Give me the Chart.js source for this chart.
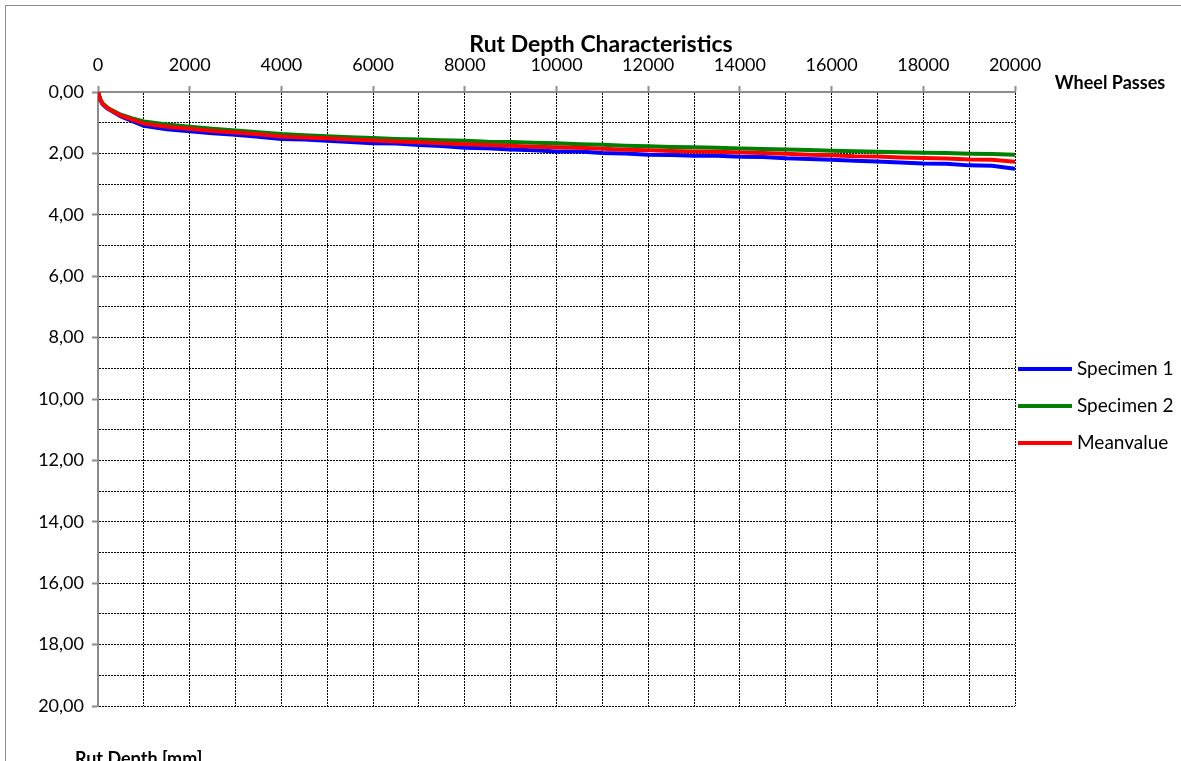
<!DOCTYPE html>
<html>
<head>
<meta charset="utf-8">
<script src="https://cdn.jsdelivr.net/npm/chart.js@4.4.1/dist/chart.umd.min.js"></script>
<style>
    html, body { margin: 0; padding: 0; background: #fff; }
    #wrap { width: 1181px; height: 761px; position: relative; }
</style>
</head>
<body>
<div id="wrap"><canvas id="rutChart" width="1181" height="761"></canvas></div>
<script>
// Wheel passes (x values)
const passes = [0, 50, 100, 200, 300, 500, 750, 1000, 1500, 2000, 2500, 3000, 3500, 4000, 4500, 5000,
    5500, 6000, 6500, 7000, 7500, 8000, 8500, 9000, 9500, 10000, 10500, 11000, 11500, 12000, 12500,
    13000, 13500, 14000, 14500, 15000, 15500, 16000, 16500, 17000, 17500, 18000, 18500, 19000, 19500, 20000];

// Rut depth in mm
const specimen1 = [0, 0.26, 0.40, 0.53, 0.62, 0.80, 0.95, 1.10, 1.21, 1.28, 1.34, 1.39, 1.46, 1.53, 1.55, 1.59,
    1.63, 1.67, 1.68, 1.73, 1.76, 1.82, 1.83, 1.87, 1.90, 1.94, 1.94, 1.99, 2.00, 2.04, 2.05,
    2.08, 2.08, 2.11, 2.12, 2.16, 2.18, 2.21, 2.24, 2.26, 2.30, 2.33, 2.34, 2.39, 2.40, 2.50];
const specimen2 = [0, 0.24, 0.37, 0.50, 0.59, 0.74, 0.86, 0.96, 1.06, 1.13, 1.20, 1.25, 1.31, 1.37, 1.41, 1.44,
    1.47, 1.50, 1.53, 1.55, 1.57, 1.59, 1.62, 1.63, 1.65, 1.67, 1.70, 1.72, 1.75, 1.77, 1.79,
    1.80, 1.82, 1.84, 1.86, 1.87, 1.89, 1.91, 1.93, 1.95, 1.96, 1.98, 1.99, 2.01, 2.02, 2.04];
const meanvalue = [0, 0.25, 0.39, 0.52, 0.61, 0.77, 0.90, 1.03, 1.13, 1.20, 1.27, 1.32, 1.38, 1.45, 1.48, 1.51,
    1.55, 1.58, 1.61, 1.64, 1.67, 1.70, 1.73, 1.75, 1.78, 1.80, 1.82, 1.85, 1.88, 1.90, 1.92,
    1.94, 1.95, 1.97, 1.99, 2.01, 2.04, 2.06, 2.09, 2.10, 2.13, 2.15, 2.17, 2.20, 2.21, 2.27];

const seriesNames = ['Specimen 1', 'Specimen 2', 'Meanvalue'];
const seriesColors = ['#0000ff', '#008000', '#ff0000'];

const FONT = 'Lato';
const AXIS_GREY = '#8c8c8c';

function toPoints(values) {
    return passes.map((p, i) => ({ x: p, y: values[i] }));
}

// Frame, titles and the legend on the right
const decorations = {
    id: 'decorations',
    afterDraw(chart) {
        const ctx = chart.ctx;
        ctx.save();
        ctx.strokeStyle = AXIS_GREY;
        ctx.lineWidth = 1;
        ctx.strokeRect(5.5, 5.5, 2000, 2000);

        ctx.fillStyle = '#000';
        ctx.font = 'bold 23px ' + FONT;
        ctx.textAlign = 'center';
        ctx.textBaseline = 'middle';
        ctx.fillText('Rut Depth Characteristics', 601, 45);

        ctx.font = 'bold 18px ' + FONT;
        ctx.fillText('Wheel Passes', 1110, 83);

        ctx.textAlign = 'left';
        ctx.textBaseline = 'alphabetic';
        ctx.fillText('Rut Depth [mm]', 75, 765);

        // legend
        ctx.font = '19px ' + FONT;
        ctx.textBaseline = 'middle';
        chart.data.datasets.forEach((ds, i) => {
            const y = 369 + i * 37;
            ctx.strokeStyle = ds.borderColor;
            ctx.lineWidth = 4;
            ctx.beginPath();
            ctx.moveTo(1018, y);
            ctx.lineTo(1072, y);
            ctx.stroke();
            ctx.fillStyle = '#000';
            ctx.fillText(ds.label, 1077, y);
        });
        ctx.restore();
    }
};

const ctx = document.getElementById('rutChart').getContext('2d');
new Chart(ctx, {
    type: 'line',
    data: {
        datasets: [
            { label: seriesNames[0], data: toPoints(specimen1), borderColor: seriesColors[0], order: 2 },
            { label: seriesNames[1], data: toPoints(specimen2), borderColor: seriesColors[1], order: 1 },
            { label: seriesNames[2], data: toPoints(meanvalue), borderColor: seriesColors[2], order: 0 }
        ]
    },
    options: {
        responsive: false,
        animation: false,
        datasets: {
            line: { borderWidth: 4, pointRadius: 0, tension: 0, fill: false }
        },
        layout: { padding: { left: 0, right: 166, top: 52, bottom: 55 } },
        plugins: {
            legend: { display: false },
            title: { display: false },
            tooltip: { enabled: false }
        },
        scales: {
            x: {
                type: 'linear',
                position: 'top',
                min: 0,
                max: 20000,
                afterFit: (scale) => { scale.height = 40; },
                border: { display: true, color: AXIS_GREY, width: 2, dash: [2, 1] },
                grid: {
                    color: '#000',
                    lineWidth: 1,
                    tickLength: 6,
                    tickWidth: 2,
                    // only the labelled steps get a tick mark
                    tickColor: (c) => (c.tick && c.tick.value % 2000 === 0) ? AXIS_GREY : 'rgba(0,0,0,0)'
                },
                ticks: {
                    stepSize: 1000,
                    autoSkip: false,
                    maxRotation: 0,
                    padding: 10,
                    color: '#000',
                    font: { family: FONT, size: 18 },
                    callback: (v) => v % 2000 === 0 ? String(v) : ''
                }
            },
            y: {
                type: 'linear',
                reverse: true,
                min: 0,
                max: 20,
                afterFit: (scale) => { scale.width = 98; },
                border: { display: true, color: AXIS_GREY, width: 2, dash: [2, 1] },
                grid: {
                    color: '#000',
                    lineWidth: 1,
                    tickLength: 6,
                    tickWidth: 2,
                    tickColor: (c) => (c.tick && c.tick.value % 2 === 0) ? AXIS_GREY : 'rgba(0,0,0,0)'
                },
                ticks: {
                    stepSize: 1,
                    autoSkip: false,
                    padding: 8,
                    color: '#000',
                    font: { family: FONT, size: 18 },
                    callback: (v) => v % 2 === 0 ? v.toFixed(2).replace('.', ',') : ''
                }
            }
        }
    },
    plugins: [decorations]
});
</script>
</body>
</html>
